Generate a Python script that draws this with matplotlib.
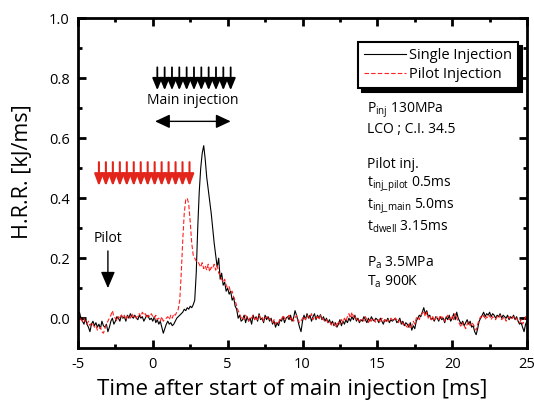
import matplotlib
matplotlib.use('Agg')
import matplotlib.pyplot as plt
import numpy as np

plt.rcParams['font.family'] = ['Open Sans', 'DejaVu Sans']
plt.rcParams['mathtext.default'] = 'regular'
plt.rcParams['axes.unicode_minus'] = False

# time after start of main injection [ms], 0.1 ms step
time = np.linspace(-5, 25, 301)

# heat release rate [kJ/ms]
single = [
    0.01, 0.02, 0.0, -0.01, -0.02, 0.0, -0.02, -0.03, -0.045, -0.02,
    -0.01, -0.025, -0.015, -0.03, -0.02, -0.035, -0.01, -0.025, -0.03, -0.02,
    -0.045, -0.03, -0.01, 0.0, -0.02, -0.01, 0.005, 0.0, -0.01, 0.01,
    0.0, 0.005, -0.01, 0.01, 0.0, 0.015, 0.005, 0.0, 0.01, 0.0,
    -0.005, 0.01, 0.0, 0.005, -0.01, 0.0, 0.01, 0.005, -0.005, 0.0,
    -0.01, 0.005, -0.015, -0.005, -0.02, -0.01, -0.03, -0.05, -0.035, -0.02,
    -0.01, -0.02, -0.015, -0.025, -0.02, -0.01, 0.0, 0.005, 0.01, 0.015,
    0.02, 0.03, 0.025, 0.035, 0.03, 0.04, 0.035, 0.045, 0.06, 0.15,
    0.30, 0.42, 0.50, 0.55, 0.575, 0.53, 0.47, 0.43, 0.39, 0.35,
    0.30, 0.25, 0.21, 0.17, 0.20, 0.13, 0.15, 0.11, 0.12, 0.09,
    0.10, 0.08, 0.09, 0.06, 0.07, 0.04, 0.03, 0.0, 0.01, -0.01,
    -0.005, 0.01, -0.015, 0.005, -0.01, 0.0, -0.02, 0.01, -0.005, 0.005,
    -0.01, 0.015, -0.005, 0.0, -0.015, 0.01, -0.005, 0.005, -0.01, 0.0,
    -0.02, -0.01, -0.03, -0.015, -0.025, -0.005, -0.01, 0.005, -0.015, 0.0,
    0.005, -0.005, 0.01, -0.01, 0.0, 0.025, 0.01, -0.01, -0.03, -0.045,
    -0.01, 0.01, -0.005, 0.015, 0.0, 0.01, -0.01, 0.005, 0.015, -0.005,
    0.01, 0.0, 0.012, -0.005, 0.005, -0.01, 0.0, -0.015, -0.005, -0.02,
    -0.01, -0.025, -0.015, -0.03, -0.02, -0.005, -0.025, -0.01, -0.02, -0.005,
    -0.015, 0.0, -0.01, 0.005, -0.005, 0.01, -0.01, 0.0, -0.015, -0.005,
    -0.01, 0.005, -0.005, -0.015, 0.0, -0.01, 0.005, -0.005, -0.01, 0.0,
    -0.005, -0.015, 0.0, -0.01, -0.02, -0.005, -0.01, 0.0, -0.015, -0.005,
    -0.01, -0.005, 0.0, -0.015, -0.01, 0.0, -0.02, -0.01, -0.025, -0.015,
    -0.02, -0.03, -0.015, -0.04, -0.025, -0.035, -0.01, 0.0, 0.01, 0.005,
    0.02, 0.035, 0.015, 0.025, 0.005, 0.01, -0.005, 0.0, -0.01, 0.005,
    0.0, -0.01, 0.005, -0.005, 0.0, -0.015, 0.005, -0.005, 0.01, -0.01,
    0.0, 0.015, -0.005, 0.02, 0.0, -0.01, -0.02, -0.01, -0.025, -0.015,
    -0.005, -0.02, -0.01, -0.03, -0.025, -0.045, -0.055, -0.035, -0.01, 0.0,
    0.01, 0.02, 0.005, 0.015, 0.01, 0.02, 0.005, 0.015, 0.01, 0.0,
    0.01, 0.005, 0.015, 0.0, 0.01, 0.005, 0.0, 0.01, -0.005, 0.005,
    0.0, 0.01, -0.005, 0.005, -0.01, -0.02, -0.015, -0.03, -0.045, -0.02,
    -0.01,
]

pilot = [
    0.0, 0.01, -0.005, -0.01, 0.0, -0.015, -0.02, -0.01, -0.025, -0.015,
    -0.02, -0.03, -0.025, -0.04, -0.035, -0.03, -0.045, -0.05, -0.035, -0.02,
    -0.01, 0.0, 0.01, 0.025, 0.005, 0.0, -0.01, 0.005, 0.0, 0.01,
    0.0, 0.01, -0.005, 0.005, 0.01, 0.0, 0.015, 0.005, 0.01, 0.0,
    0.01, 0.015, 0.005, 0.02, 0.01, 0.015, 0.0, 0.01, 0.005, 0.015,
    0.005, 0.0, 0.01, -0.005, 0.0, -0.01, 0.005, -0.01, -0.005, 0.0,
    0.005, -0.005, 0.01, 0.0, 0.015, 0.01, 0.02, 0.03, 0.06, 0.15,
    0.26, 0.35, 0.395, 0.40, 0.38, 0.32, 0.25, 0.21, 0.20, 0.19,
    0.19, 0.18, 0.17, 0.185, 0.165, 0.175, 0.16, 0.18, 0.155, 0.17,
    0.165, 0.18, 0.16, 0.175, 0.15, 0.145, 0.13, 0.12, 0.13, 0.11,
    0.10, 0.105, 0.085, 0.09, 0.07, 0.06, 0.04, 0.025, 0.015, 0.0,
    0.005, -0.005, 0.01, 0.0, -0.01, 0.005, 0.0, 0.01, -0.005, 0.005,
    -0.005, 0.01, 0.0, 0.005, -0.01, 0.0, 0.005, -0.005, 0.0, -0.01,
    -0.015, -0.005, -0.02, -0.01, -0.015, 0.0, -0.005, 0.01, 0.0, -0.005,
    0.0, 0.01, -0.005, 0.005, -0.01, 0.0, 0.01, -0.005, -0.015, -0.01,
    0.0, 0.005, -0.005, 0.01, 0.005, 0.0, 0.015, -0.005, 0.005, 0.0,
    0.005, -0.005, 0.01, 0.0, -0.005, -0.01, -0.005, -0.015, -0.01, -0.02,
    -0.025, -0.015, -0.03, -0.02, -0.01, -0.02, -0.005, -0.015, 0.0, -0.01,
    0.005, 0.015, 0.0, 0.02, 0.005, 0.01, -0.005, 0.0, -0.01, -0.005,
    0.0, -0.01, 0.005, -0.005, -0.015, 0.0, -0.01, 0.0, -0.005, -0.015,
    -0.01, -0.005, -0.015, 0.0, -0.01, -0.005, -0.015, -0.005, -0.01, 0.0,
    -0.005, -0.01, 0.0, -0.005, -0.015, -0.005, -0.01, -0.02, -0.015, -0.025,
    -0.03, -0.02, -0.035, -0.025, -0.01, -0.02, 0.0, 0.005, -0.005, 0.01,
    0.015, 0.025, 0.005, 0.02, 0.0, 0.01, -0.005, 0.005, -0.01, 0.0,
    0.005, -0.005, 0.01, 0.0, 0.005, -0.01, 0.0, 0.01, -0.005, 0.0,
    0.01, -0.005, 0.015, 0.0, -0.01, -0.02, -0.03, -0.015, -0.025, -0.035,
    -0.02, -0.01, -0.025, -0.015, -0.02, -0.03, -0.04, -0.02, -0.005, 0.005,
    0.0, 0.01, -0.005, 0.005, 0.0, 0.01, -0.005, 0.005, 0.0, -0.005,
    0.005, 0.0, 0.01, -0.005, 0.0, 0.005, -0.01, 0.0, 0.005, -0.005,
    0.0, 0.005, -0.005, 0.0, -0.01, -0.015, -0.005, -0.02, -0.01, 0.005,
    0.0,
]

conditions = [
    'P$_{inj}$ 130MPa',
    'LCO ; C.I. 34.5',
    '',
    'Pilot inj.',
    't$_{inj\\_pilot}$ 0.5ms',
    't$_{inj\\_main}$ 5.0ms',
    't$_{dwell}$ 3.15ms',
    '',
    'P$_{a}$ 3.5MPa',
    'T$_{a}$ 900K',
]

fig = plt.figure(figsize=(5.34, 4.03), dpi=100)
ax = fig.add_axes([0.146, 0.136, 0.841, 0.819])

ax.plot(time, single, color='black', lw=0.8, label='Single Injection')
ax.plot(time, pilot, color='#ff2020', lw=0.8, ls=(0, (4, 2)), label='Pilot Injection')

ax.set_xlim(-5, 25)
ax.set_ylim(-0.1, 1.0)
ax.set_xticks(np.arange(-5, 26, 5))
ax.set_xticks(np.arange(-2.5, 25, 5), minor=True)
ax.set_yticks(np.arange(0, 1.01, 0.2))
ax.set_yticks(np.arange(0.1, 1.0, 0.2), minor=True)
ax.yaxis.set_major_formatter(matplotlib.ticker.FormatStrFormatter('%.1f'))
ax.tick_params(which='both', direction='in', top=True, right=True, labelsize=10.5)
ax.tick_params(which='major', length=6, width=2, pad=6)
ax.tick_params(which='minor', length=3, width=2)
for s in ax.spines.values():
    s.set_linewidth(2)

ax.set_xlabel('Time after start of main injection [ms]', fontsize=16)
ax.xaxis.set_label_coords(0.477, -0.092)
ax.set_ylabel('H.R.R. [kJ/ms]', fontsize=15.5)
ax.yaxis.set_label_coords(-0.1, 0.535)

leg = ax.legend(loc='upper right', bbox_to_anchor=(0.99, 0.94), fontsize=10.5,
                frameon=True, fancybox=False, edgecolor='black', handlelength=2.9,
                handletextpad=0.2, borderpad=0.4, labelspacing=0.25,
                borderaxespad=0.3,
                shadow={'color': 'black', 'alpha': 1, 'ox': 3, 'oy': -3})
leg.get_frame().set_linewidth(1.5)
leg.get_frame().set_alpha(1)

# main injection arrows
for x in np.linspace(0.3, 5.2, 11):
    ax.annotate('', xy=(x, 0.76), xytext=(x, 0.836),
                arrowprops=dict(arrowstyle='-|>,head_length=0.72,head_width=0.3',
                                mutation_scale=10, color='black', lw=1.3,
                                shrinkA=0, shrinkB=0))
ax.text(2.7, 0.726, 'Main injection', fontsize=10, ha='center', va='center')
ax.annotate('', xy=(0.15, 0.656), xytext=(5.2, 0.656),
            arrowprops=dict(arrowstyle='<|-|>,head_length=0.9,head_width=0.42',
                            mutation_scale=10, color='black', lw=1,
                            shrinkA=0, shrinkB=0))

# pilot injection arrows
for x in np.linspace(-3.6, 2.45, 14):
    ax.annotate('', xy=(x, 0.44), xytext=(x, 0.52),
                arrowprops=dict(arrowstyle='-|>,head_length=0.72,head_width=0.27',
                                mutation_scale=10, color='#e3241b', lw=1.5,
                                shrinkA=0, shrinkB=0))

ax.text(-3.0, 0.265, 'Pilot', fontsize=10, ha='center', va='center')
ax.annotate('', xy=(-3.0, 0.10), xytext=(-3.0, 0.224),
            arrowprops=dict(arrowstyle='-|>,head_length=1.0,head_width=0.43',
                            mutation_scale=10, color='black', lw=1,
                            shrinkA=0, shrinkB=0))

ax.text(14.3, 0.725, '\n'.join(conditions), fontsize=10, ha='left', va='top',
        linespacing=1.2)

fig.savefig('out.png', dpi=100)
